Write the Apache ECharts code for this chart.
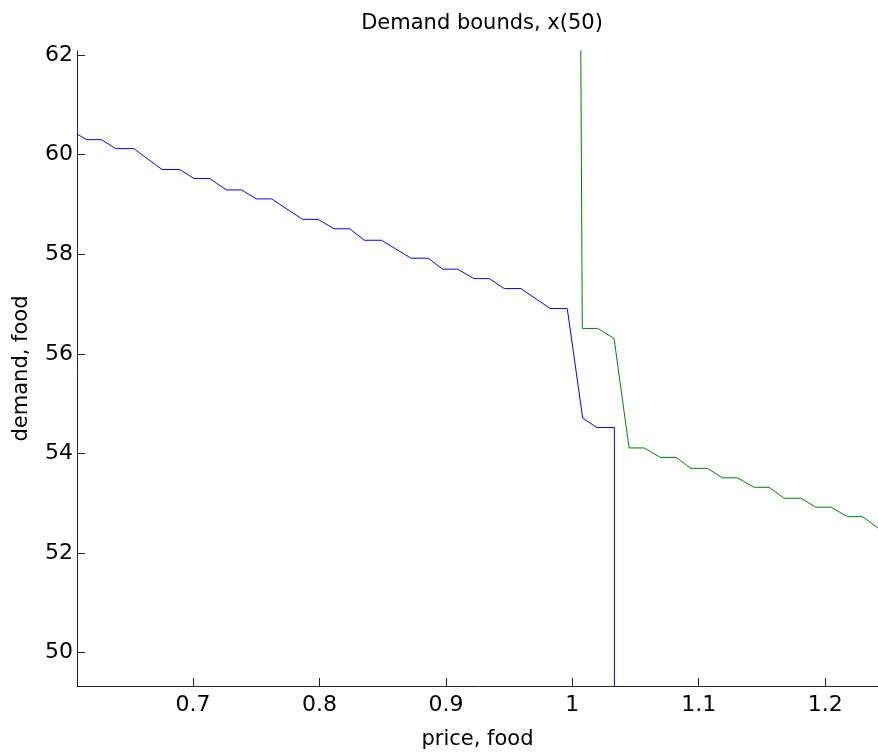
<!DOCTYPE html>
<html>
<head>
<meta charset="utf-8">
<title>Demand bounds, x(50)</title>
<script src="https://cdn.jsdelivr.net/npm/echarts@6/dist/echarts.min.js"></script>
<style>
  html, body { margin: 0; padding: 0; background: #fff; }
  #chart { width: 878px; height: 755px; }
</style>
</head>
<body>
<div id="chart"></div>
<script>
// Lower demand bound (blue): price, demand pairs
const lowerPrice = [0.6085, 0.6156, 0.6275, 0.6388, 0.6531, 0.6755, 0.6895, 0.7008, 0.7132, 0.7264,
  0.7383, 0.7502, 0.7621, 0.7866, 0.7989, 0.8116, 0.8240, 0.8354, 0.8491, 0.8723,
  0.8860, 0.8974, 0.9093, 0.9222, 0.9343, 0.9462, 0.9594, 0.9824, 0.9960, 1.0082,
  1.0193, 1.0333, 1.0333];
const lowerDemand = [60.41, 60.30, 60.30, 60.12, 60.12, 59.70, 59.70, 59.52, 59.52, 59.29,
  59.29, 59.11, 59.11, 58.70, 58.70, 58.51, 58.51, 58.28, 58.28, 57.92,
  57.92, 57.70, 57.70, 57.51, 57.51, 57.31, 57.31, 56.91, 56.91, 54.71,
  54.52, 54.52, 49.30];

// Upper demand bound (green)
const upperPrice = [1.0067, 1.0079, 1.0201, 1.0330, 1.0449, 1.0568, 1.0697, 1.0821, 1.0937, 1.1069,
  1.1187, 1.1306, 1.1438, 1.1557, 1.1676, 1.1808, 1.1927, 1.2045, 1.2177, 1.2296, 1.2418];
const upperDemand = [62.10, 56.51, 56.51, 56.31, 54.11, 54.11, 53.92, 53.92, 53.70, 53.70,
  53.51, 53.51, 53.32, 53.32, 53.10, 53.10, 52.92, 52.92, 52.73, 52.73, 52.50];

// Axis ticks
const priceTicks = [0.7, 0.8, 0.9, 1.0, 1.1, 1.2];
const demandTicks = [50, 52, 54, 56, 58, 60, 62];

const FONT = 'DejaVu Sans';
const zip = (xs, ys) => xs.map((x, i) => [x, ys[i]]);

const chart = echarts.init(document.getElementById('chart'), null, { renderer: 'canvas' });
chart.setOption({
  animation: false,
  backgroundColor: '#ffffff',
  title: {
    text: 'Demand bounds, x(50)',
    left: 477, top: 8, textAlign: 'center',
    textStyle: { fontFamily: FONT, fontSize: 21, fontWeight: 'normal', color: '#000' }
  },
  grid: { left: 77, right: 0, top: 51, bottom: 67, containLabel: false },
  xAxis: {
    type: 'value',
    min: 0.6082, max: 1.2418,
    name: 'price, food',
    nameLocation: 'middle',
    nameGap: 43,
    nameTextStyle: { fontFamily: FONT, fontSize: 21, color: '#000' },
    axisLine: { show: true, onZero: false, lineStyle: { color: '#222', width: 1 } },
    axisTick: { show: true, inside: true, length: 8, customValues: priceTicks, lineStyle: { color: '#222' } },
    axisLabel: {
      customValues: priceTicks, margin: 8,
      fontFamily: FONT, fontSize: 22, color: '#000',
      formatter: v => (Math.round(v * 10) / 10).toString()
    },
    splitLine: { show: false }
  },
  yAxis: {
    type: 'value',
    min: 49.33, max: 62.08,
    name: 'demand, food',
    nameLocation: 'middle',
    nameRotate: 90,
    nameGap: 45,
    nameTextStyle: { fontFamily: FONT, fontSize: 21, color: '#000' },
    axisLine: { show: true, onZero: false, lineStyle: { color: '#222', width: 1 } },
    axisTick: { show: true, inside: true, length: 8, customValues: demandTicks, lineStyle: { color: '#222' } },
    axisLabel: {
      customValues: demandTicks, margin: 4,
      fontFamily: FONT, fontSize: 22, color: '#000'
    },
    splitLine: { show: false }
  },
  series: [
    {
      name: 'lower', type: 'line', data: zip(lowerPrice, lowerDemand),
      showSymbol: false, clip: true,
      lineStyle: { color: '#0000ff', width: 1 }
    },
    {
      name: 'upper', type: 'line', data: zip(upperPrice, upperDemand),
      showSymbol: false, clip: true,
      lineStyle: { color: '#008000', width: 1 }
    }
  ]
});
</script>
</body>
</html>
